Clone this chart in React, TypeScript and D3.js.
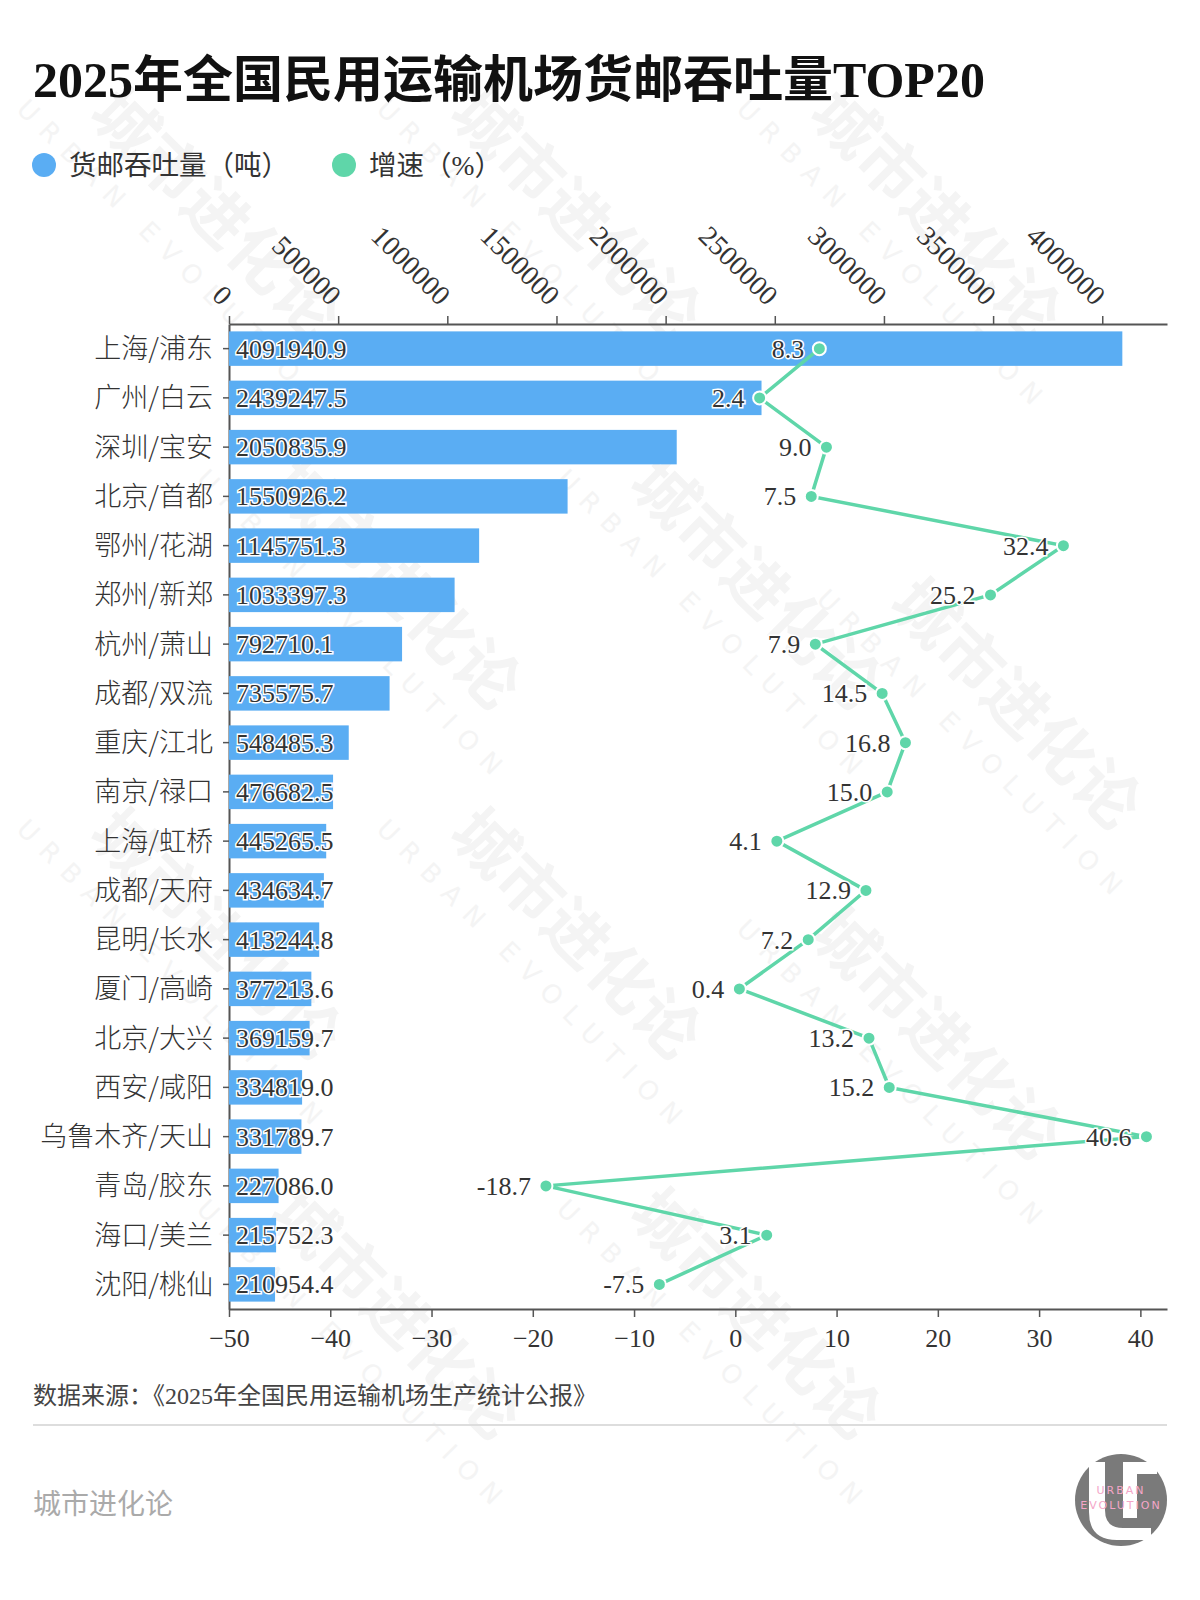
import { useEffect, useRef } from "react";
import * as d3 from "d3";

const airports = [
  "上海/浦东", "广州/白云", "深圳/宝安", "北京/首都", "鄂州/花湖",
  "郑州/新郑", "杭州/萧山", "成都/双流", "重庆/江北", "南京/禄口",
  "上海/虹桥", "成都/天府", "昆明/长水", "厦门/高崎", "北京/大兴",
  "西安/咸阳", "乌鲁木齐/天山", "青岛/胶东", "海口/美兰", "沈阳/桃仙",
];
const cargo = [
  4091940.9, 2439247.5, 2050835.9, 1550926.2, 1145751.3,
  1033397.3, 792710.1, 735575.7, 548485.3, 476682.5,
  445265.5, 434634.7, 413244.8, 377213.6, 369159.7,
  334819.0, 331789.7, 227086.0, 215752.3, 210954.4,
];
const growth = [
  8.3, 2.4, 9.0, 7.5, 32.4, 25.2, 7.9, 14.5, 16.8, 15.0,
  4.1, 12.9, 7.2, 0.4, 13.2, 15.2, 40.6, -18.7, 3.1, -7.5,
];
const cargoTicks = [0, 500000, 1000000, 1500000, 2000000, 2500000, 3000000, 3500000, 4000000];
const growthTicks = [-50, -40, -30, -20, -10, 0, 10, 20, 30, 40];

const W = 1200;
const H = 1600;
const BLUE = "#5aadf3";
const GREEN = "#5fd6a9";
const FONT = "'Liberation Serif', 'DejaVu Serif', 'Noto Sans CJK SC', serif";

export default function App() {
  const ref = useRef<SVGSVGElement>(null);

  useEffect(() => {
    if (!ref.current) return;
    const svg = d3.select(ref.current);
    svg.selectAll("*").remove();

    const left = 229, right = 1167, top = 324, bottom = 1309;
    const rows = airports.map((name, i) => ({ name, cargo: cargo[i], growth: growth[i] }));

    // faint watermark, kept inside the canvas
    const wm = svg.append("g").attr("fill", "#f4f4f4").attr("font-family", "'Noto Sans CJK SC', sans-serif");
    const spots = [
      [200, 230], [560, 230], [920, 230],
      [380, 600], [740, 600], [1000, 720],
      [200, 950], [560, 950], [920, 1050],
      [380, 1330], [740, 1330],
    ];
    spots.forEach(([cx, cy]) => {
      const g = wm.append("g").attr("transform", `translate(${cx},${cy}) rotate(45)`);
      g.append("text").attr("font-size", 64).attr("font-weight", 700).attr("text-anchor", "middle").text("城市进化论");
      g.append("text").attr("y", 46).attr("font-size", 26).attr("letter-spacing", 12)
        .attr("text-anchor", "middle").attr("font-family", "'DejaVu Sans', sans-serif").text("URBAN EVOLUTION");
    });

    // title + legend
    svg.append("text").attr("x", 33).attr("y", 97).attr("font-size", 50).attr("font-weight", 700)
      .attr("font-family", FONT).attr("fill", "#111").text("2025年全国民用运输机场货邮吞吐量TOP20");
    const legend = [
      { label: "货邮吞吐量（吨）", color: BLUE, x: 44 },
      { label: "增速（%）", color: GREEN, x: 344 },
    ];
    const lg = svg.append("g").selectAll("g").data(legend).join("g")
      .attr("transform", d => `translate(${d.x},165)`);
    lg.append("circle").attr("r", 12).attr("fill", d => d.color);
    lg.append("text").attr("x", 25).attr("y", 10).attr("font-size", 27.5).attr("fill", "#333")
      .attr("font-family", FONT).text(d => d.label);

    const x = d3.scaleLinear().domain([0, d3.max(cargo)! * 1.05]).range([left, right]);
    const xg = d3.scaleLinear().domain([-50, d3.max(growth)! * 1.05]).range([left, right]);
    const y = d3.scaleBand<string>().domain(airports).range([top, bottom]).paddingInner(0.3).paddingOuter(0.15);

    const styleAxis = (g: d3.Selection<SVGGElement, unknown, null, undefined>) => {
      g.select(".domain").attr("stroke", "#555").attr("stroke-width", 2);
      g.selectAll(".tick line").attr("stroke", "#555").attr("stroke-width", 1.5);
      g.selectAll(".tick text").attr("fill", "#333").attr("font-family", FONT);
    };

    // top axis
    const topAxis = svg.append("g").attr("transform", `translate(0,${top})`)
      .call(d3.axisTop(x).tickValues(cargoTicks).tickSize(8).tickSizeOuter(0).tickFormat(d => String(d)));
    styleAxis(topAxis);
    topAxis.selectAll(".tick text").attr("font-size", 28).attr("text-anchor", "end")
      .attr("transform", "translate(-2,-24) rotate(45)").attr("dy", "0.35em").attr("y", 0).attr("x", 0);

    // bottom axis
    const botAxis = svg.append("g").attr("transform", `translate(0,${bottom})`)
      .call(d3.axisBottom(xg).tickValues(growthTicks).tickSize(8).tickSizeOuter(0));
    styleAxis(botAxis);
    botAxis.selectAll(".tick text").attr("font-size", 26).attr("y", 20);

    // left axis
    const leftAxis = svg.append("g").attr("transform", `translate(${left},0)`)
      .call(d3.axisLeft(y).tickSize(6).tickSizeOuter(0).tickPadding(10));
    styleAxis(leftAxis);
    leftAxis.selectAll(".tick text").attr("font-size", 27).attr("dy", "0.35em")
      .attr("font-family", "'Noto Sans CJK SC', sans-serif").attr("font-weight", 300);

    // bars
    svg.append("g").selectAll("rect").data(rows).join("rect")
      .attr("x", x(0)).attr("y", d => y(d.name)!)
      .attr("width", d => x(d.cargo) - x(0)).attr("height", y.bandwidth())
      .attr("fill", BLUE);
    svg.append("g").selectAll("text").data(rows).join("text")
      .attr("x", x(0) + 7).attr("y", d => y(d.name)! + y.bandwidth() / 2).attr("dy", "0.35em")
      .attr("font-size", 26).attr("font-family", FONT).attr("fill", "#333")
      .attr("stroke", "#fff").attr("stroke-width", 3).attr("paint-order", "stroke")
      .text(d => d.cargo.toFixed(1));

    // growth line
    const cy = (d: { name: string }) => y(d.name)! + y.bandwidth() / 2;
    const line = d3.line<typeof rows[number]>().x(d => xg(d.growth)).y(cy);
    svg.append("path").datum(rows).attr("fill", "none").attr("stroke", GREEN)
      .attr("stroke-width", 3.5).attr("d", line);
    svg.append("g").selectAll("circle").data(rows).join("circle")
      .attr("cx", d => xg(d.growth)).attr("cy", cy).attr("r", 6.5)
      .attr("fill", GREEN).attr("stroke", "#fff").attr("stroke-width", 2);
    svg.append("g").selectAll("text").data(rows).join("text")
      .attr("x", d => xg(d.growth) - 15).attr("y", cy).attr("dy", "0.35em")
      .attr("text-anchor", "end").attr("font-size", 26).attr("font-family", FONT).attr("fill", "#333")
      .attr("stroke", "#fff").attr("stroke-width", 3).attr("paint-order", "stroke")
      .text(d => d.growth.toFixed(1));

    // footer
    svg.append("text").attr("x", 33).attr("y", 1404).attr("font-size", 24).attr("fill", "#444")
      .attr("font-family", FONT).text("数据来源：《2025年全国民用运输机场生产统计公报》");
    svg.append("line").attr("x1", 33).attr("x2", right).attr("y1", 1425).attr("y2", 1425)
      .attr("stroke", "#ddd").attr("stroke-width", 2);
    svg.append("text").attr("x", 33).attr("y", 1514).attr("font-size", 28).attr("fill", "#aaa")
      .attr("font-family", FONT).text("城市进化论");

    // logo
    const logo = svg.append("g").attr("transform", "translate(1121,1500)");
    logo.append("circle").attr("r", 46).attr("fill", "#7a7a7a");
    logo.append("path").attr("d", "M-32,-38 L-32,12 Q-32,40 -4,40 L30,40 L30,28 L2,28 Q-16,28 -16,10 L-16,-38 Z")
      .attr("fill", "#fff");
    logo.append("path").attr("d", "M2,-38 L36,-38 L36,-26 L16,-26 L16,18 L2,18 Z").attr("fill", "#fff");
    logo.append("text").attr("y", -6).attr("text-anchor", "middle").attr("font-size", 11)
      .attr("letter-spacing", 2).attr("fill", "#f4a6c8").attr("font-family", "'DejaVu Sans', sans-serif").text("URBAN");
    logo.append("text").attr("y", 9).attr("text-anchor", "middle").attr("font-size", 11)
      .attr("letter-spacing", 2).attr("fill", "#f4a6c8").attr("font-family", "'DejaVu Sans', sans-serif").text("EVOLUTION");
  }, []);

  return (
    <div style={{ position: "absolute", left: 0, top: 0, width: W, height: H, background: "#fff" }}>
      <svg ref={ref} width={W} height={H} />
    </div>
  );
}
